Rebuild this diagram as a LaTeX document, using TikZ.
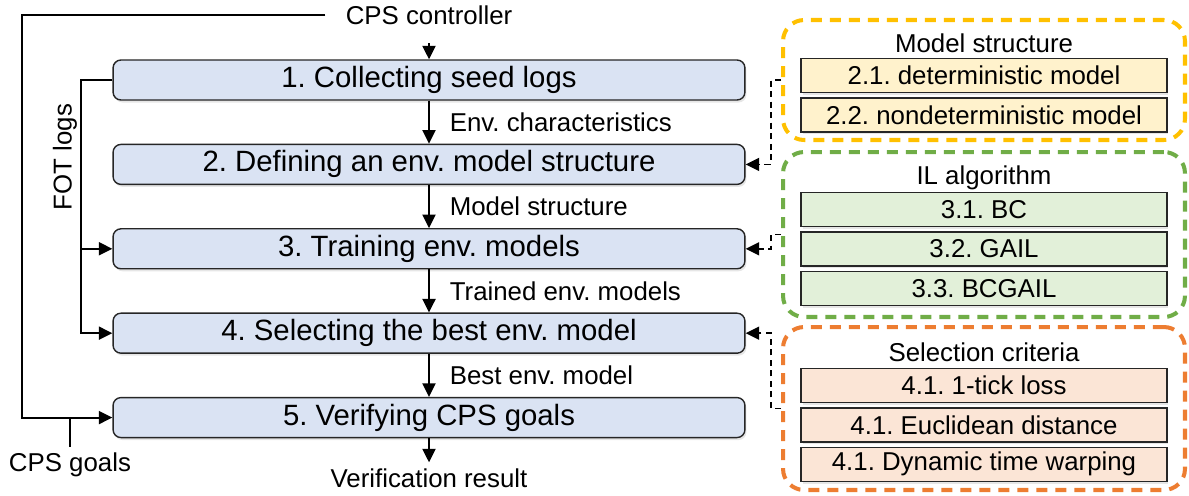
\documentclass[tikz,border=0pt]{standalone}
\usepackage{fontspec}
\setmainfont{Liberation Sans}
\frenchspacing
\usetikzlibrary{arrows.meta, positioning, shadows}
\definecolor{stageblue}{RGB}{218,227,243}
\definecolor{msYellow}{RGB}{255,192,0}
\definecolor{msYellowFill}{RGB}{255,242,204}
\definecolor{ilGreen}{RGB}{112,173,71}
\definecolor{ilGreenFill}{RGB}{226,240,217}
\definecolor{scOrange}{RGB}{237,125,49}
\definecolor{scOrangeFill}{RGB}{251,229,214}
\tikzset{
  stagebox/.style={rectangle, rounded corners=4.5pt, draw=black!85, line width=0.8pt, fill=stageblue,
              minimum width=12.64cm, minimum height=0.8cm, inner ysep=0pt, font=\fontsize{16.7}{19}\selectfont,
              drop shadow={opacity=0.2, shadow xshift=0.03cm, shadow yshift=-0.05cm}},
  optbox/.style={rectangle, draw=black!85, line width=0.8pt, inner ysep=0pt,
              minimum width=7.32cm, minimum height=0.68cm, font=\fontsize{14.7}{17}\selectfont,
              drop shadow={opacity=0.2, shadow xshift=0.03cm, shadow yshift=-0.05cm}},
  groupbox/.style={rectangle, rounded corners=12pt, line width=2.3pt, dash pattern=on 0.22cm off 0.16cm,
              minimum width=8.04cm},
  lbl/.style={font=\fontsize{14.7}{17}\selectfont},
  flow/.style={-{Triangle[length=0.27cm, width=0.26cm]}, line width=1.1pt},
  plain/.style={line width=1.1pt},
  dashflow/.style={-{Triangle[length=0.27cm, width=0.26cm]}, line width=0.9pt, dash pattern=on 3.5pt off 2.5pt},
}
\begin{document}
\begin{tikzpicture}[x=0.02cm, y=-0.02cm]
  \useasboundingbox (0,0) rectangle (1189,495);
  % main stages
  \node[stagebox] (step1) at (429,80) {1. Collecting seed logs};
  \node[stagebox, below=0.86cm of step1] (step2) {2. Defining an env. model structure};
  \node[stagebox, below=0.86cm of step2] (step3) {3. Training env. models};
  \node[stagebox, below=0.86cm of step3] (step4) {4. Selecting the best env. model};
  \node[stagebox, below=0.86cm of step4] (step5) {5. Verifying CPS goals};
  \node[lbl, inner xsep=0.4cm] (ctrl) at (429,15) {CPS controller};
  \node[lbl] (res) at (429,478) {Verification result};
  \node[lbl] (goals) at (70,465) {CPS goals};
  \node[lbl, rotate=90] (fotlbl) at (65,157) {FOT logs};
  \coordinate (loop) at (22,15);
  % option groups
  \node[groupbox, draw=msYellow, minimum height=2.4cm] (grp1) at (984,80) {};
  \node[groupbox, draw=ilGreen, minimum height=3.3cm] (grp2) at (984,234.5) {};
  \node[groupbox, draw=scOrange, minimum height=3.26cm] (grp3) at (984,408.5) {};
  \node[lbl] (ttl1) at (984,43) {Model structure};
  \node[optbox, fill=msYellowFill] (opt21) at (984,75.5) {2.1. deterministic model};
  \node[optbox, fill=msYellowFill, below=0.08cm of opt21] (opt22) {2.2. nondeterministic model};
  \node[lbl] (ttl2) at (984,178) {IL algorithm};
  \node[optbox, fill=ilGreenFill] (opt31) at (984,209.5) {3.1. BC};
  \node[optbox, fill=ilGreenFill, below=0.08cm of opt31] (opt32) {3.2. GAIL};
  \node[optbox, fill=ilGreenFill, below=0.08cm of opt32] (opt33) {3.3. BCGAIL};
  \node[lbl] (ttl3) at (984,352) {Selection criteria};
  \node[optbox, fill=scOrangeFill] (opt41) at (984,385.5) {4.1. 1-tick loss};
  \node[optbox, fill=scOrangeFill, below=0.08cm of opt41] (opt42) {4.1. Euclidean distance};
  \node[optbox, fill=scOrangeFill, below=0.08cm of opt42] (opt43) {4.1. Dynamic time warping};
  % flow
  \draw[flow, shorten <=0.25cm] (ctrl) -- (step1);
  \draw[flow] (step1) -- node[lbl, right=0.28cm] {Env. characteristics} (step2);
  \draw[flow] (step2) -- node[lbl, right=0.28cm] {Model structure} (step3);
  \draw[flow] (step3) -- node[lbl, right=0.28cm] {Trained env. models} (step4);
  \draw[flow] (step4) -- node[lbl, right=0.28cm] {Best env. model} (step5);
  \draw[flow] (step5) -- (res);
  \draw[flow] (ctrl.west) -- (loop) |- (step5.west);
  \draw[plain] (goals.north) -- (goals.north |- step5.west);
  \draw[flow] (step1.west) -- ++(-31,0) coordinate (fot) |- (step4.west);
  \draw[flow] (fot |- step3.west) -- (step3.west);
  % options into stages
  \draw[dashflow] (grp1.west) -- ++(-10,0) |- (step2.east);
  \draw[dashflow] (grp2.west) -- ++(-10,0) |- (step3.east);
  \draw[dashflow] (grp3.west) -- ++(-10,0) |- (step4.east);
\end{tikzpicture}
\end{document}
